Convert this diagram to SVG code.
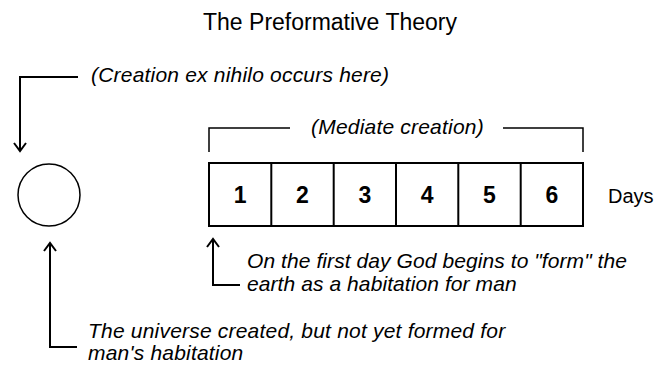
<svg xmlns="http://www.w3.org/2000/svg" width="657" height="367" viewBox="0 0 657 367">
<style>
.t{font-family:"Liberation Sans",Arial,sans-serif;fill:#000}
.it{font-style:italic;font-size:21px;letter-spacing:0.2px}
.num{font-weight:bold;font-size:23px;text-anchor:middle}
.ln{fill:none;stroke:#000;stroke-width:2}
.thin{fill:none;stroke:#000;stroke-width:1.5}
</style>
<rect width="657" height="367" fill="#fff"/>
<g id="title"><text class="t" x="330" y="30" font-size="23" text-anchor="middle">The Preformative Theory</text></g>
<g id="universe"><circle class="thin" cx="49" cy="195" r="31"/></g>
<g id="days">
<rect class="ln" x="209" y="163" width="374" height="63"/>
<path class="ln" d="M271.3 163V226M333.7 163V226M396 163V226M458.3 163V226M520.7 163V226"/>
<text class="t num" x="240.2" y="203">1</text>
<text class="t num" x="302.5" y="203">2</text>
<text class="t num" x="364.8" y="203">3</text>
<text class="t num" x="427.2" y="203">4</text>
<text class="t num" x="489.5" y="203">5</text>
<text class="t num" x="551.8" y="203">6</text>
<text class="t" x="608" y="203" font-size="20">Days</text>
</g>
<g id="mediate">
<path class="thin" d="M209 152V128H290M503 128H583V152"/>
<text class="t it" x="311" y="134">(Mediate creation)</text>
</g>
<g id="connectors">
<path class="ln" d="M78 77H20V151"/>
<path class="ln" d="M14 143L20 151L26 143"/>
<path class="ln" d="M77 347H50V243"/>
<path class="ln" d="M44 251L50 243L56 251"/>
<path class="ln" d="M240 285H213V239"/>
<path class="ln" d="M207 247L213 239L219 247"/>
</g>
<g id="labels">
<text class="t it" x="91" y="82">(Creation ex nihilo occurs here)</text>
<text class="t it" x="247" y="268" style="letter-spacing:0.08px">On the first day God begins to "form" the</text>
<text class="t it" x="247" y="291" style="letter-spacing:0.08px">earth as a habitation for man</text>
<text class="t it" x="88" y="338">The universe created, but not yet formed for</text>
<text class="t it" x="88" y="360">man's habitation</text>
</g>
</svg>
